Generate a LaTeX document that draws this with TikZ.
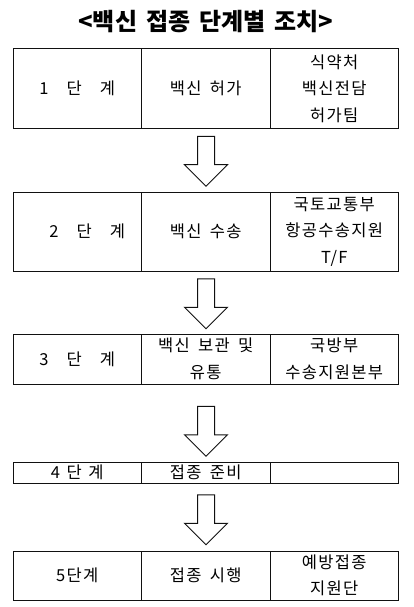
\documentclass[tikz,border=0pt]{standalone}
\usepackage{fontspec}
\setmainfont{Noto Sans CJK KR}
\newfontfamily\cellfont[LetterSpace=8]{Noto Sans CJK KR}
\newcommand{\cellsetup}{\cellfont\fontsize{16.5}{26.5}\selectfont\spaceskip=0.5em\relax}
\usepackage{tikz}
\usetikzlibrary{positioning,shapes.arrows}
\definecolor{ink}{HTML}{111111}
\tikzset{
  cell/.style={rectangle, draw=ink, line width=1pt, align=center, minimum width=128.5pt, inner sep=0pt, outer sep=0pt, font=\cellsetup},
  blockarrow/.style={single arrow, draw=ink, line width=1pt, shape border rotate=270, minimum height=50pt, minimum width=42pt, single arrow head extend=13pt, inner sep=8pt, single arrow tip angle=90},
  heading/.style={font=\bfseries\fontsize{24}{24}\selectfont}
}
\newcommand{\gap}{\hspace{1.1em}}

\begin{document}
\begin{tikzpicture}[x=1pt, y=-1pt]
  \useasboundingbox (0,0) rectangle (413,607);
  \node[heading] (title) at (206,22) {<백신\hspace{0.15em} 접종\hspace{0.15em} 단계별\hspace{0.15em} 조치>};
  % 1 단계
  \node[cell, minimum height=79pt, anchor=north west] (s1a) at (13,49) {1\gap 단\gap 계};
  \node[cell, minimum height=79pt, right=0pt of s1a] (s1b) {백신 허가};
  \node[cell, minimum height=79pt, right=0pt of s1b] (s1c) {식약처\\백신전담\\허가팀};
  \node[blockarrow] (a1) at (206,157) {};
  % 2 단계
  \node[cell, minimum height=79pt, anchor=north west] (s2a) at (13,192) {\hspace{20pt}2\gap 단\gap 계};
  \node[cell, minimum height=79pt, right=0pt of s2a] (s2b) {백신 수송};
  \node[cell, minimum height=79pt, right=0pt of s2b] (s2c) {국토교통부\\항공수송지원\\T/F};
  \node[blockarrow] (a2) at (206,299.5) {};
  % 3 단계
  \node[cell, minimum height=50pt, anchor=north west] (s3a) at (13,334) {3\gap 단\gap 계};
  \node[cell, minimum height=50pt, right=0pt of s3a] (s3b) {백신 보관 및\\유통};
  \node[cell, minimum height=50pt, right=0pt of s3b] (s3c) {국방부\\수송지원본부};
  \node[blockarrow] (a3) at (206,427) {};
  % 4 단계
  \node[cell, minimum height=21pt, anchor=north west] (s4a) at (13,462) {4\hspace{0.4em}단\hspace{0.4em}계};
  \node[cell, minimum height=21pt, right=0pt of s4a] (s4b) {접종 준비};
  \node[cell, minimum height=21pt, right=0pt of s4b] (s4c) {};
  \node[blockarrow] (a4) at (206,515.5) {};
  % 5 단계
  \node[cell, minimum height=49pt, anchor=north west] (s5a) at (13,551) {5단계};
  \node[cell, minimum height=49pt, right=0pt of s5a] (s5b) {접종 시행};
  \node[cell, minimum height=49pt, right=0pt of s5b] (s5c) {예방접종\\지원단};
\end{tikzpicture}
\end{document}
